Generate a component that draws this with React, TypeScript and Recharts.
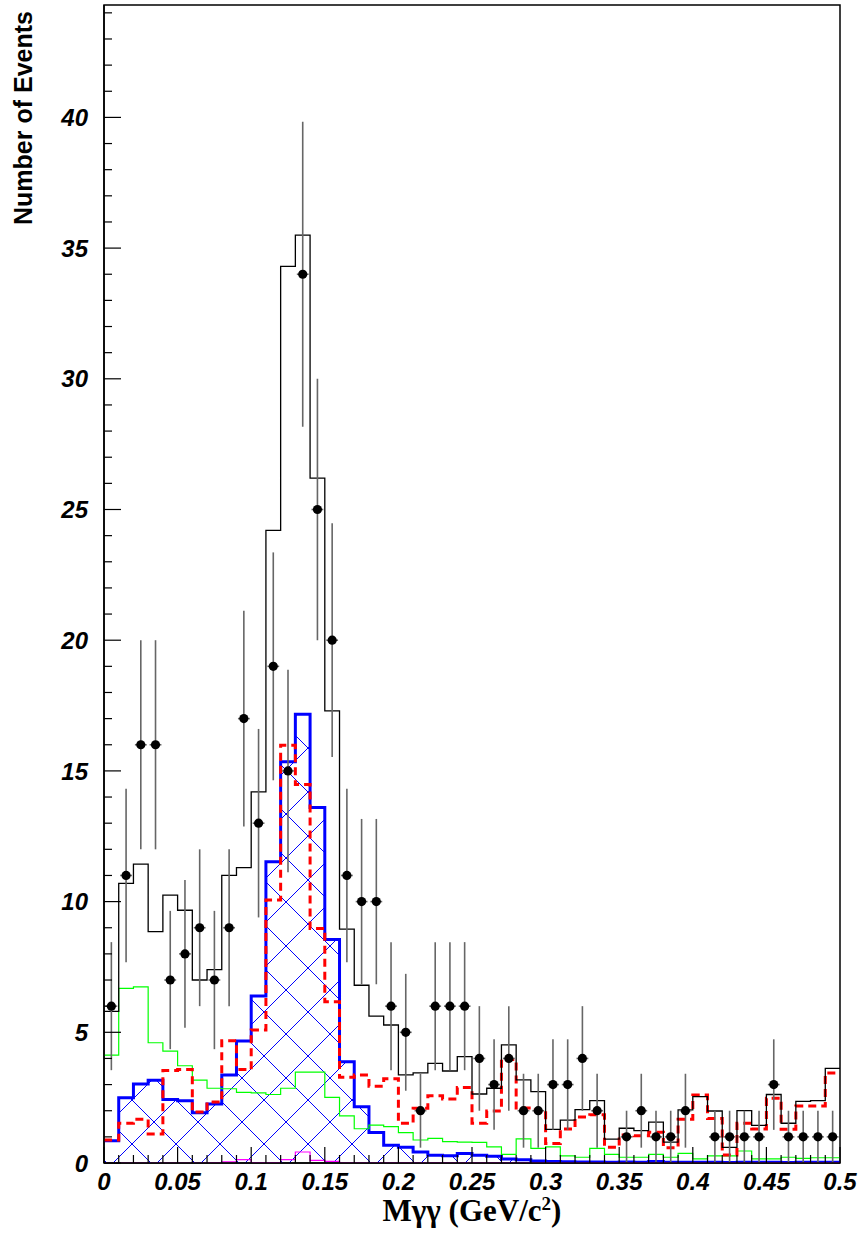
import { ComposedChart, Line, Area, Scatter, ErrorBar, XAxis, YAxis, ReferenceArea } from 'recharts';

// 50 bins of 0.01 GeV/c^2 between 0 and 0.5
const BIN = 0.01;

// observed events per bin (black points)
const observed = [
  6, 11, 16, 16, 7, 8, 9, 7, 9, 17,
  13, 19, 15, 34, 25, 20, 11, 10, 10, 6,
  5, 2, 6, 6, 6, 4, 3, 4, 2, 2,
  3, 3, 4, 2, 0, 1, 2, 1, 1, 2,
  0, 1, 1, 1, 1, 3, 1, 1, 1, 1,
];

// total fit (thin black histogram)
const totalFit = [
  5.8, 10.7, 11.43, 8.85, 10.25, 9.67, 7.0, 7.4, 11.0, 11.3,
  14.2, 24.2, 34.3, 35.5, 26.2, 17.3, 8.95, 6.8, 5.62, 5.28,
  3.37, 3.45, 3.81, 3.52, 4.07, 2.64, 2.86, 4.52, 3.18, 2.73,
  1.29, 1.64, 2.04, 2.39, 0.91, 1.33, 1.24, 1.56, 0.8, 2.03,
  2.54, 1.99, 0.6, 2.0, 1.44, 2.62, 1.52, 2.36, 2.39, 3.62,
];

// red dashed histogram
const redDashed = [
  0.88, 1.52, 1.67, 1.11, 3.54, 3.58, 1.95, 2.33, 4.68, 3.58,
  5.09, 10.06, 15.98, 14.48, 8.97, 6.17, 3.28, 3.37, 2.94, 3.22,
  1.52, 2.09, 2.57, 2.45, 2.89, 1.52, 1.99, 3.96, 2.1, 2.03,
  0.75, 1.3, 1.76, 1.85, 0.6, 1.07, 1.04, 1.18, 0.58, 1.67,
  2.6, 1.7, 0.31, 1.52, 1.3, 2.48, 1.29, 2.18, 2.18, 3.44,
];

// blue hatched histogram
const blueHatched = [
  0.85, 2.5, 3.02, 3.17, 2.43, 2.38, 1.92, 2.26, 3.37, 4.67,
  6.39, 11.52, 15.35, 17.17, 13.6, 8.55, 3.87, 2.15, 1.17, 0.68,
  0.6, 0.42, 0.3, 0.28, 0.36, 0.3, 0.26, 0.15, 0.12, 0.08,
  0.06, 0.05, 0.04, 0.04, 0.03, 0.04, 0.03, 0.06, 0.03, 0.03,
  0.03, 0.03, 0.02, 0.03, 0.03, 0.03, 0.02, 0.03, 0.03, 0.03,
];

// green histogram
const greenHist = [
  4.13, 6.68, 6.74, 4.6, 4.28, 3.72, 3.17, 2.86, 2.84, 2.7,
  2.68, 2.62, 2.86, 3.48, 3.48, 2.51, 1.8, 1.31, 1.45, 1.39,
  1.16, 0.88, 0.94, 0.82, 0.8, 0.79, 0.62, 0.33, 0.92, 0.56,
  0.62, 0.27, 0.22, 0.56, 0.33, 0.22, 0.22, 0.33, 0.22, 0.37,
  0.16, 0.27, 0.27, 0.46, 0.16, 0.16, 0.22, 0.18, 0.2, 0.2,
];

// magenta histogram
const magentaHist = [
  0, 0, 0, 0, 0, 0, 0, 0.01, 0.04, 0.13,
  0.02, 0.02, 0.13, 0.42, 0.1, 0.06, 0.01, 0.01, 0.01, 0.01,
  0.01, 0.01, 0.01, 0.01, 0.01, 0.01, 0.01, 0.01, 0.01, 0.01,
  0.01, 0.01, 0.01, 0.01, 0.01, 0.01, 0.01, 0.01, 0.01, 0.01,
  0.01, 0.01, 0.01, 0.01, 0.01, 0.01, 0.01, 0.01, 0.01, 0.01,
];

const xMajorLabels = ['0', '0.05', '0.1', '0.15', '0.2', '0.25', '0.3', '0.35', '0.4', '0.45', '0.5'];
const yMajorLabels = ['0', '5', '10', '15', '20', '25', '30', '35', '40'];

const Y_MAX = 44.3;
const PLOT_LEFT = 104;
const PLOT_BOTTOM = 1163;

// minor ticks every bin / every event
const xTicks = Array.from({ length: observed.length + 1 }, (_, i) => +(i * BIN).toFixed(2));
const yTicks = Array.from({ length: 45 }, (_, i) => i);

// bin edges; last edge repeats the last bin so the step closes at 0.5
const histRows = [...observed.map((_, i) => i), observed.length].map((i) => {
  const k = Math.min(i, observed.length - 1);
  return {
    x: +(i * BIN).toFixed(2),
    total: totalFit[k],
    red: redDashed[k],
    blue: blueHatched[k],
    green: greenHist[k],
    magenta: magentaHist[k],
  };
});

// poisson errors on the points, empty bins not drawn
const pointRows = observed
  .map((n, i) => ({ x: +((i + 0.5) * BIN).toFixed(3), n, err: Math.sqrt(n), xerr: 0.004 }))
  .filter((r) => r.n > 0);

const tickFont = {
  fontFamily: '"Liberation Sans", Arial, sans-serif',
  fontWeight: 700,
  fontStyle: 'italic',
  fontSize: 24,
  fill: '#000',
};

function XTick({ x, y, payload }: any) {
  const v = payload.value as number;
  const label = xMajorLabels.find((l) => Math.abs(parseFloat(l) - v) < 1e-6);
  return (
    <g>
      <line x1={x} x2={x} y1={PLOT_BOTTOM} y2={PLOT_BOTTOM - (label ? 16 : 8)} stroke="#000" strokeWidth={1.2} />
      {label && (
        <text x={x} y={y} dy="0.72em" textAnchor="middle" style={tickFont}>
          {label}
        </text>
      )}
    </g>
  );
}

function YTick({ x, y, payload }: any) {
  const v = payload.value as number;
  const label = yMajorLabels.find((l) => parseFloat(l) === v);
  return (
    <g>
      <line x1={PLOT_LEFT} x2={PLOT_LEFT + (label ? 17 : 8)} y1={y} y2={y} stroke="#000" strokeWidth={1.2} />
      {label && (
        <text x={x} y={y} dy="0.36em" textAnchor="end" style={tickFont}>
          {label}
        </text>
      )}
    </g>
  );
}

const Dot = (p: any) => <circle cx={p.cx} cy={p.cy} r={4.6} fill="#000" />;

export default function App() {
  return (
    <div style={{ position: 'absolute', left: 0, top: 0, background: '#fff' }}>
      <ComposedChart width={862} height={1234} data={histRows} margin={{ top: 5, right: 22, bottom: 0, left: 0 }}>
        <defs>
          <pattern id="xhatch" patternUnits="userSpaceOnUse" width={44} height={44}>
            <path d="M-2,-2 L46,46 M46,-2 L-2,46" stroke="#0000ff" strokeWidth={1} fill="none" />
          </pattern>
        </defs>
        <XAxis
          type="number"
          dataKey="x"
          domain={[0, 0.5]}
          ticks={xTicks}
          interval={0}
          tick={<XTick />}
          tickLine={false}
          tickSize={0}
          tickMargin={10}
          axisLine={{ stroke: '#000', strokeWidth: 1.5 }}
          height={71}
          allowDataOverflow
        />
        <YAxis
          type="number"
          domain={[0, Y_MAX]}
          ticks={yTicks}
          interval={0}
          tick={<YTick />}
          tickLine={false}
          tickSize={0}
          tickMargin={16}
          axisLine={{ stroke: '#000', strokeWidth: 1.5 }}
          width={104}
          allowDataOverflow
        />
        <ReferenceArea x1={0} x2={0.5} y1={0} y2={Y_MAX} fill="none" stroke="#000" strokeWidth={1.5} ifOverflow="visible" />
        <Line dataKey="green" type="stepAfter" stroke="#00ff00" strokeWidth={1.2} dot={false} isAnimationActive={false} />
        <Area
          dataKey="blue"
          type="stepAfter"
          stroke="#0000ff"
          strokeWidth={3}
          fill="url(#xhatch)"
          fillOpacity={1}
          dot={false}
          activeDot={false}
          isAnimationActive={false}
        />
        <Line dataKey="magenta" type="stepAfter" stroke="#ff00ff" strokeWidth={1.2} dot={false} isAnimationActive={false} />
        <Line
          dataKey="red"
          type="stepAfter"
          stroke="#ff0000"
          strokeWidth={3}
          strokeDasharray="8 5"
          dot={false}
          isAnimationActive={false}
        />
        <Line dataKey="total" type="stepAfter" stroke="#000" strokeWidth={1.3} dot={false} isAnimationActive={false} />
        <Scatter data={pointRows} dataKey="n" shape={Dot} isAnimationActive={false}>
          <ErrorBar dataKey="err" direction="y" width={0} stroke="#666" strokeWidth={1.6} />
          <ErrorBar dataKey="xerr" direction="x" width={0} stroke="#666" strokeWidth={1.6} />
        </Scatter>
        <text
          transform="translate(23,118) rotate(-90)"
          textAnchor="middle"
          dominantBaseline="central"
          style={{ fontFamily: '"Liberation Sans", Arial, sans-serif', fontWeight: 700, fontSize: 25, fill: '#000' }}
        >
          Number of Events
        </text>
        <text
          x={472}
          y={1221}
          textAnchor="middle"
          style={{ fontFamily: '"Liberation Serif", "Times New Roman", serif', fontWeight: 700, fontSize: 31, fill: '#000' }}
        >
          Mγγ  (GeV/c
          <tspan dy={-11} fontSize={19}>2</tspan>
          <tspan dy={11}>)</tspan>
        </text>
      </ComposedChart>
    </div>
  );
}
